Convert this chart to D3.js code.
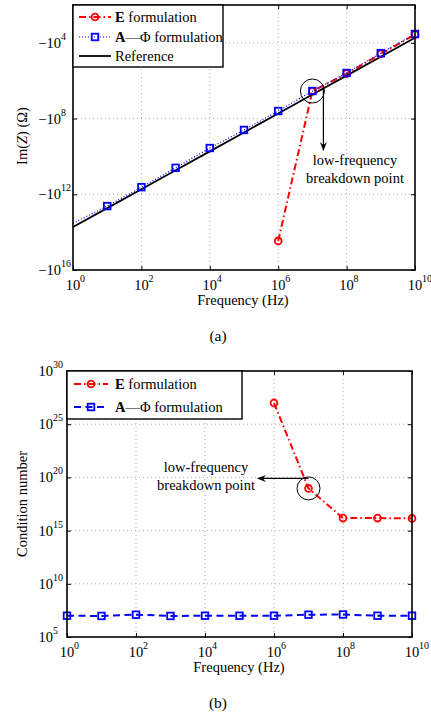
<!DOCTYPE html>
<html><head><meta charset="utf-8">
<script src="https://cdn.jsdelivr.net/npm/d3@7"></script>
<style>
body{margin:0;background:#fff}
svg{display:block}
text{font-family:"Liberation Serif","Times New Roman",serif;fill:#000}
</style>
</head><body>
<svg id="c" width="431" height="717"></svg>
<script>
// ---------- data ----------
const freqs = [1e0,1e1,1e2,1e3,1e4,1e5,1e6,1e7,1e8,1e9,1e10];
const freqsE = [1e6,1e7,1e8,1e9,1e10];
// (a) Im(Z) in ohms
const imzRef  = [-5.4e13,-5.4e12,-5.4e11,-5.4e10,-5.4e9,-5.4e8,-5.4e7,-5.4e6,-5.4e5,-5.4e4,-5.4e3];
const imzAPhi = [-3.4e13,-4.2e12,-4.2e11,-4.0e10,-3.6e9,-4.0e8,-4.0e7,-3.5e6,-3.9e5,-3.5e4,-3.4e3];
const imzE    = [-2.9e14,-3.6e6,-4.2e5,-3.9e4,-3.6e3];
// (b) condition number
const condE    = [1.0e27,9.3e18,1.5e16,1.5e16,1.4e16];
const condAPhi = [1.0e7,9.5e6,1.25e7,9.5e6,1.0e7,1.0e7,1.0e7,1.25e7,1.3e7,1.0e7,1.0e7];
// tick labels
const xTickExps = [0,2,4,6,8,10];
const yTickExpsA = [4,8,12,16];
const yTickExpsB = [5,10,15,20,25,30];

const svg = d3.select("#c");
const FS = 14.5;
const RED = "#ff0000", BLUE = "#0000ff";

function panel(box, xDom, yDom){
  const x = d3.scaleLog().domain(xDom).range([box.l, box.r]);
  const y = d3.scaleLog().domain(yDom).range([box.t, box.b]);
  return {x, y};
}

function drawFrame(box, x, y, yGridVals){
  const g = svg.append("g");
  // grid
  const xg = xTickExps.map(e=>Math.pow(10,e)).filter(v=>x(v)>box.l+1 && x(v)<box.r-1);
  g.selectAll(null).data(xg).enter().append("line")
    .attr("x1",d=>x(d)).attr("x2",d=>x(d)).attr("y1",box.t).attr("y2",box.b)
    .attr("stroke","#999").attr("stroke-width",0.8).attr("stroke-dasharray","1,3");
  g.selectAll(null).data(yGridVals).enter().append("line")
    .attr("y1",d=>y(d)).attr("y2",d=>y(d)).attr("x1",box.l).attr("x2",box.r)
    .attr("stroke","#999").attr("stroke-width",0.8).attr("stroke-dasharray","1,3");
  return g;
}

function drawAxes(box, x, y, yTickVals){
  const xt = xTickExps.map(e=>Math.pow(10,e));
  const tl = 4;
  const mk = (ax, tr) => svg.append("g").attr("transform",tr).call(ax)
      .call(s=>{s.select(".domain").remove(); s.selectAll(".tick line").attr("stroke","#000").attr("stroke-width",1); s.selectAll(".tick text").remove();});
  mk(d3.axisBottom(x).tickValues(xt).tickSize(-tl).tickFormat(""), `translate(0,${box.b})`);
  mk(d3.axisTop(x).tickValues(xt).tickSize(-tl).tickFormat(""), `translate(0,${box.t})`);
  mk(d3.axisLeft(y).tickValues(yTickVals).tickSize(-tl).tickFormat(""), `translate(${box.l},0)`);
  mk(d3.axisRight(y).tickValues(yTickVals).tickSize(-tl).tickFormat(""), `translate(${box.r},0)`);
  svg.append("rect").attr("x",box.l).attr("y",box.t).attr("width",box.r-box.l).attr("height",box.b-box.t)
    .attr("fill","none").attr("stroke","#000").attr("stroke-width",1.6);
}

function xLabels(x, base){
  xTickExps.forEach(e=>{
    const cx = x(Math.pow(10,e));
    svg.append("text").attr("x",cx).attr("y",base).attr("text-anchor","middle").attr("font-size",FS).text("10");
    svg.append("text").attr("x",cx+7).attr("y",base-8.5).attr("font-size",10).text(e);
  });
}
function yLabels(y, exps, rightX, prefix, sign){
  exps.forEach(e=>{
    const cy = y(Math.pow(10,e));
    svg.append("text").attr("x",rightX).attr("y",cy+5).attr("text-anchor","end").attr("font-size",FS).text(prefix+"10");
    svg.append("text").attr("x",rightX).attr("y",cy-3).attr("font-size",10).text(e);
  });
}

function circles(g, data, x, y){
  g.selectAll(null).data(data).enter().append("circle")
    .attr("cx",d=>x(d[0])).attr("cy",d=>y(d[1])).attr("r",3.4)
    .attr("fill","none").attr("stroke",RED).attr("stroke-width",1.8);
}
function squares(g, data, x, y){
  g.selectAll(null).data(data).enter().append("rect")
    .attr("x",d=>x(d[0])-3.3).attr("y",d=>y(d[1])-3.3).attr("width",6.6).attr("height",6.6)
    .attr("fill","none").attr("stroke",BLUE).attr("stroke-width",1.8);
}
function arrowHead(g, tipX, tipY, dir){
  // dir: "down" or "left"
  let pts;
  if(dir==="down") pts=[[tipX,tipY],[tipX-3.5,tipY-9],[tipX,tipY-6],[tipX+3.5,tipY-9]];
  else pts=[[tipX,tipY],[tipX+9,tipY-3.5],[tipX+6,tipY],[tipX+9,tipY+3.5]];
  g.append("path").attr("d","M"+pts.map(p=>p.join(",")).join("L")+"Z").attr("fill","#000");
}

// ================= Panel (a) =================
{
  const box = {l:73, r:415, t:5, b:270};
  const {x, y} = panel(box, [1e0,1e10], [1e2,1e16]);
  const Y = v => y(-v); // Im(Z) negative; plotted by magnitude
  drawFrame(box, x, y, [1e4,1e8,1e12]);
  const g = svg.append("g");
  const line = d3.line().x(d=>x(d[0])).y(d=>Y(d[1]));
  const eData = freqsE.map((f,i)=>[f,imzE[i]]);
  const aData = freqs.map((f,i)=>[f,imzAPhi[i]]);
  const rData = freqs.map((f,i)=>[f,imzRef[i]]);
  g.append("path").attr("d",line(eData)).attr("fill","none").attr("stroke",RED).attr("stroke-width",2).attr("stroke-dasharray","7,3,1.5,3");
  g.append("path").attr("d",line(aData)).attr("fill","none").attr("stroke",BLUE).attr("stroke-width",1.2).attr("stroke-dasharray","1,2");
  g.append("path").attr("d",line(rData)).attr("fill","none").attr("stroke","#000").attr("stroke-width",1.8);
  circles(g, eData.map(d=>[d[0],-d[1]]), x, y);
  squares(g, aData.slice(1).map(d=>[d[0],-d[1]]), x, y);

  // annotation
  const cx = x(1e7), cy = Y(imzAPhi[7]);
  g.append("circle").attr("cx",cx).attr("cy",cy).attr("r",12).attr("fill","none").attr("stroke","#000").attr("stroke-width",1);
  g.append("line").attr("x1",cx+11).attr("x2",cx+11).attr("y1",cy-4).attr("y2",150).attr("stroke","#000").attr("stroke-width",1.2);
  arrowHead(g, cx+11, 151, "down");
  svg.append("text").attr("x",355).attr("y",165).attr("text-anchor","middle").attr("font-size",FS).text("low-frequency");
  svg.append("text").attr("x",355).attr("y",183).attr("text-anchor","middle").attr("font-size",FS).text("breakdown point");

  drawAxes(box, x, y, yTickExpsA.map(e=>Math.pow(10,e)));
  xLabels(x, 290);
  yLabels(y, yTickExpsA, 61, "\u2212");

  svg.append("text").attr("x",243).attr("y",305).attr("text-anchor","middle").attr("font-size",FS).text("Frequency (Hz)");
  const yt = svg.append("text").attr("transform","translate(27,136) rotate(-90)").attr("text-anchor","middle").attr("font-size",FS);
  yt.append("tspan").text("Im(");
  yt.append("tspan").attr("font-style","italic").text("Z");
  yt.append("tspan").text(") (\u03A9)");
  svg.append("text").attr("x",218).attr("y",341).attr("text-anchor","middle").attr("font-size",FS+1).text("(a)");

  // legend
  const lg = svg.append("g");
  lg.append("rect").attr("x",box.l).attr("y",box.t).attr("width",150).attr("height",62).attr("fill","#fff").attr("stroke","#000").attr("stroke-width",1.4);
  const rows = [
    {y:17, col:RED, dash:"7,3,1.5,3", w:2, mk:"c", lab:[["E",true],[" formulation",false]]},
    {y:37, col:BLUE, dash:"1,2", w:1.2, mk:"s", lab:[["A",true],["\u2014\u03A6 formulation",false]]},
    {y:56, col:"#000", dash:null, w:1.8, mk:null, lab:[["Reference",false]]}
  ];
  rows.forEach(r=>{
    const ln = lg.append("line").attr("x1",79).attr("x2",111).attr("y1",r.y).attr("y2",r.y).attr("stroke",r.col).attr("stroke-width",r.w);
    if(r.dash) ln.attr("stroke-dasharray",r.dash);
    if(r.mk==="c") lg.append("circle").attr("cx",95).attr("cy",r.y).attr("r",3.4).attr("fill","none").attr("stroke",RED).attr("stroke-width",1.8);
    if(r.mk==="s") lg.append("rect").attr("x",95-3.3).attr("y",r.y-3.3).attr("width",6.6).attr("height",6.6).attr("fill","none").attr("stroke",BLUE).attr("stroke-width",1.8);
    const t = lg.append("text").attr("x",115).attr("y",r.y+5).attr("font-size",FS);
    r.lab.forEach(p=>t.append("tspan").attr("font-weight",p[1]?"bold":"normal").text(p[0]));
  });
}

// ================= Panel (b) =================
{
  const box = {l:67, r:412, t:371, b:637};
  const {x, y} = panel(box, [1e0,1e10], [1e30,1e5]);
  drawFrame(box, x, y, [1e10,1e15,1e20,1e25]);
  const g = svg.append("g");
  const line = d3.line().x(d=>x(d[0])).y(d=>y(d[1]));
  const eData = freqsE.map((f,i)=>[f,condE[i]]);
  const aData = freqs.map((f,i)=>[f,condAPhi[i]]);
  g.append("path").attr("d",line(eData)).attr("fill","none").attr("stroke",RED).attr("stroke-width",2).attr("stroke-dasharray","7,3,1.5,3");
  g.append("path").attr("d",line(aData)).attr("fill","none").attr("stroke",BLUE).attr("stroke-width",2).attr("stroke-dasharray","7,4.5");
  circles(g, eData, x, y);
  squares(g, aData, x, y);

  const cx = x(1e7), cy = y(condE[1]);
  g.append("circle").attr("cx",cx).attr("cy",cy).attr("r",11.5).attr("fill","none").attr("stroke","#000").attr("stroke-width",1);
  g.append("line").attr("x1",cx).attr("x2",258).attr("y1",cy-10).attr("y2",cy-10).attr("stroke","#000").attr("stroke-width",1.2);
  arrowHead(g, 257, cy-10, "left");
  svg.append("text").attr("x",206).attr("y",472).attr("text-anchor","middle").attr("font-size",FS).text("low-frequency");
  svg.append("text").attr("x",206).attr("y",490).attr("text-anchor","middle").attr("font-size",FS).text("breakdown point");

  drawAxes(box, x, y, yTickExpsB.map(e=>Math.pow(10,e)));
  xLabels(x, 657);
  yLabels(y, yTickExpsB, 53, "");

  svg.append("text").attr("x",239).attr("y",672).attr("text-anchor","middle").attr("font-size",FS).text("Frequency (Hz)");
  svg.append("text").attr("transform","translate(27,504) rotate(-90)").attr("text-anchor","middle").attr("font-size",FS).text("Condition number");
  svg.append("text").attr("x",218).attr("y",708).attr("text-anchor","middle").attr("font-size",FS+1).text("(b)");

  const lg = svg.append("g");
  lg.append("rect").attr("x",box.l).attr("y",box.t).attr("width",175).attr("height",48).attr("fill","#fff").attr("stroke","#000").attr("stroke-width",1.4);
  const rows = [
    {y:384, col:RED, dash:"7,3,1.5,3", mk:"c", lab:[["E",true],[" formulation",false]]},
    {y:407, col:BLUE, dash:"7,4.5", mk:"s", lab:[["A",true],["\u2014\u03A6 formulation",false]]}
  ];
  rows.forEach(r=>{
    lg.append("line").attr("x1",74).attr("x2",108).attr("y1",r.y).attr("y2",r.y).attr("stroke",r.col).attr("stroke-width",2).attr("stroke-dasharray",r.dash);
    if(r.mk==="c") lg.append("circle").attr("cx",91).attr("cy",r.y).attr("r",3.4).attr("fill","none").attr("stroke",RED).attr("stroke-width",1.8);
    if(r.mk==="s") lg.append("rect").attr("x",91-3.3).attr("y",r.y-3.3).attr("width",6.6).attr("height",6.6).attr("fill","none").attr("stroke",BLUE).attr("stroke-width",1.8);
    const t = lg.append("text").attr("x",115).attr("y",r.y+5).attr("font-size",FS);
    r.lab.forEach(p=>t.append("tspan").attr("font-weight",p[1]?"bold":"normal").text(p[0]));
  });
}
</script>
</body></html>
